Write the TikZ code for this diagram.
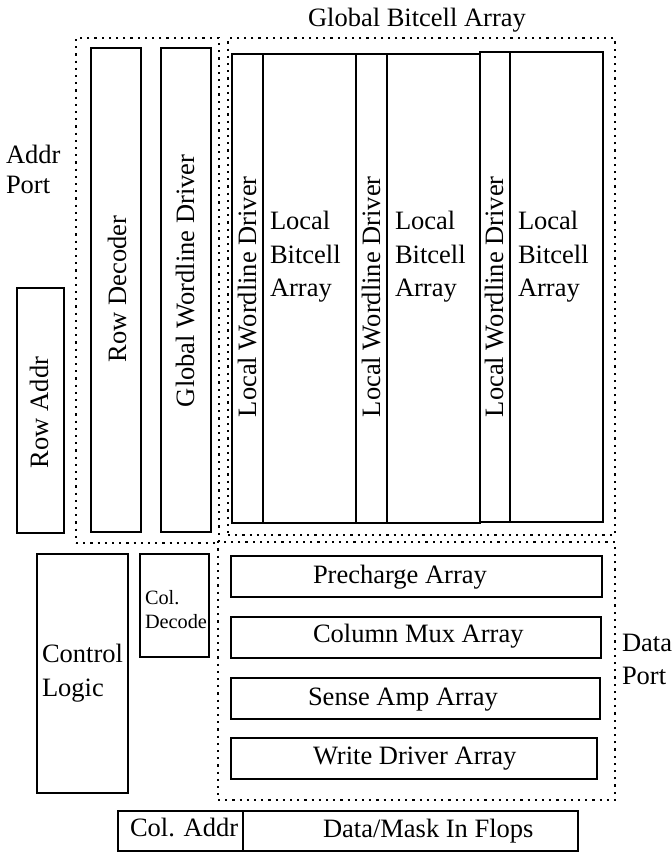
\documentclass[tikz,border=0pt]{standalone}
\usepackage{fontspec}
\setmainfont{Liberation Serif}
\begin{document}
\begin{tikzpicture}[x=1pt,y=-1pt,
  box/.style={draw,line width=1.9pt,inner sep=0pt,outer sep=0pt,anchor=north west},
  dotbox/.style={draw,line width=2.2pt,dash pattern=on 2.2pt off 5pt,inner sep=0pt,outer sep=0pt,anchor=north west},
  lbl/.style={inner sep=0pt,outer sep=0pt,anchor=base west,font=\fontsize{26.5}{30}\selectfont},
  slbl/.style={inner sep=0pt,outer sep=0pt,anchor=base west,font=\fontsize{20.3}{24}\selectfont},
  vlbl/.style={lbl,rotate=90}]
\useasboundingbox (0,0) rectangle (672,852);
% dotted groups
\node[dotbox,minimum width=143pt,minimum height=505pt] (addrport) at (76,38) {};
\node[dotbox,minimum width=387pt,minimum height=497pt] (gba) at (228,38) {};
\node[dotbox,minimum width=397pt,minimum height=258pt] (dataport) at (218,542) {};
% blocks
\node[box,minimum width=47pt,minimum height=245pt] (rowaddr) at (17,288) {};
\node[box,minimum width=50pt,minimum height=484pt] (rowdec) at (91,48) {};
\node[box,minimum width=50pt,minimum height=484pt] (gwd) at (161,48) {};
\node[box,minimum width=31pt,minimum height=469pt] (lwd1) at (232,54) {};
\node[box,minimum width=93pt,minimum height=469pt] (lba1) at (263,54) {};
\node[box,minimum width=31pt,minimum height=469pt] (lwd2) at (356,54) {};
\node[box,minimum width=93pt,minimum height=469pt] (lba2) at (387,54) {};
\node[box,minimum width=30pt,minimum height=470pt] (lwd3) at (480,52) {};
\node[box,minimum width=93pt,minimum height=470pt] (lba3) at (510,52) {};
\node[box,minimum width=91pt,minimum height=239pt] (ctrl) at (37,554) {};
\node[box,minimum width=69pt,minimum height=103pt] (coldec) at (140,554) {};
\node[box,minimum width=371pt,minimum height=41pt] (prech) at (231,556) {};
\node[box,minimum width=370pt,minimum height=41pt] (colmux) at (231,617) {};
\node[box,minimum width=369pt,minimum height=41pt] (sense) at (231,678) {};
\node[box,minimum width=366pt,minimum height=41pt] (wdrv) at (231,738) {};
\node[box,minimum width=125pt,minimum height=40pt] (coladdr) at (118,811) {};
\node[box,minimum width=335pt,minimum height=40pt] (flops) at (243,811) {};
% labels
\node[lbl] (tgba) at (308,26) {Global Bitcell Array};
\node[lbl] (taddr1) at (6,163) {Addr};
\node[lbl] (taddr2) at (6,193) {Port};
\node[vlbl] (trowaddr) at (48,468) {Row Addr};
\node[vlbl] (trowdec) at (126,362) {Row Decoder};
\node[vlbl] (tgwd) at (194,407) {Global Wordline Driver};
\node[vlbl] (tlwd1) at (256,417) {Local Wordline Driver};
\node[vlbl] (tlwd2) at (380,417) {Local Wordline Driver};
\node[vlbl] (tlwd3) at (503,417) {Local Wordline Driver};
\node[lbl] (tl1a) at (270,229) {Local};
\node[lbl] (tl1b) at (270,263) {Bitcell};
\node[lbl] (tl1c) at (270,296) {Array};
\node[lbl] (tl2a) at (395,229) {Local};
\node[lbl] (tl2b) at (395,263) {Bitcell};
\node[lbl] (tl2c) at (395,296) {Array};
\node[lbl] (tl3a) at (518,229) {Local};
\node[lbl] (tl3b) at (518,263) {Bitcell};
\node[lbl] (tl3c) at (518,296) {Array};
\node[lbl] (tctrl1) at (42,662) {Control};
\node[lbl] (tctrl2) at (42,696) {Logic};
\node[slbl] (tcd1) at (145,604) {Col.};
\node[slbl] (tcd2) at (145,628) {Decode};
\node[lbl] (tprech) at (313,583) {Precharge Array};
\node[lbl] (tcolmux) at (313,642) {Column Mux Array};
\node[lbl] (tsense) at (308,705) {Sense Amp Array};
\node[lbl] (twdrv) at (313,764) {Write Driver Array};
\node[lbl] (tcoladdr) at (130,836) {Col. Addr};
\node[lbl] (tflops) at (323,837) {Data/Mask In Flops};
\node[lbl] (tdata1) at (622,651) {Data};
\node[lbl] (tdata2) at (622,684) {Port};
\end{tikzpicture}
\end{document}
